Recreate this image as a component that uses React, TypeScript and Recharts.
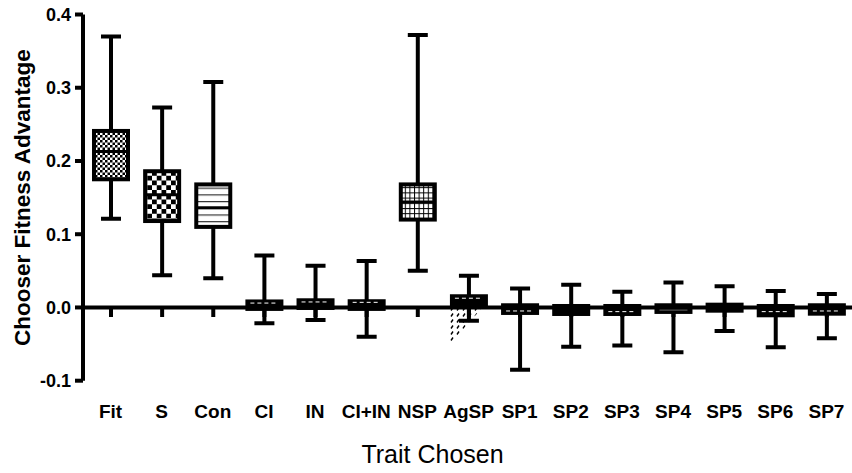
import React from "react";
import { ComposedChart, Bar, XAxis, YAxis, ReferenceLine, Label } from "recharts";

const categories = ["Fit", "S", "Con", "CI", "IN", "CI+IN", "NSP", "AgSP", "SP1", "SP2", "SP3", "SP4", "SP5", "SP6", "SP7"];
const whiskerLow = [0.121, 0.044, 0.04, -0.0216, -0.017, -0.04, 0.05, -0.018, -0.085, -0.0535, -0.052, -0.061, -0.032, -0.0544, -0.042];
const quartile1 = [0.175, 0.118, 0.11, -0.002, -0.0007, -0.002, 0.12, 0.0025, -0.0075, -0.0089, -0.0089, -0.0061, -0.0044, -0.0107, -0.0085];
const medians = [0.213, 0.154, 0.136, 0.006, 0.0075, 0.007, 0.144, 0.0126, -0.0048, -0.004, -0.0057, -0.0034, 0, -0.0057, -0.0048];
const quartile3 = [0.241, 0.186, 0.168, 0.0082, 0.0098, 0.0085, 0.168, 0.0153, 0.003, 0.002, 0.002, 0.003, 0.0038, 0.002, 0.003];
const whiskerHigh = [0.37, 0.273, 0.308, 0.071, 0.057, 0.0635, 0.372, 0.0434, 0.026, 0.031, 0.0216, 0.034, 0.029, 0.0225, 0.0184];
const yTicks = [-0.1, 0, 0.1, 0.2, 0.3, 0.4];

const data = categories.map((name, i) => ({
  name,
  range: [whiskerLow[i], whiskerHigh[i]],
  low: whiskerLow[i],
  q1: quartile1[i],
  median: medians[i],
  q3: quartile3[i],
  high: whiskerHigh[i],
}));

const font = "'Liberation Sans', Arial, sans-serif";

// fill and median look per box
const boxFill: Record<string, string> = {
  Fit: "url(#chkFine)",
  S: "url(#chkCoarse)",
  Con: "url(#hStripe)",
  NSP: "url(#gridPat)",
};
const bigBoxes = ["Fit", "S", "Con", "NSP"];
const plainBlack = ["SP2", "SP5"];

function BoxShape(props: any) {
  const { x, y, width, height, payload } = props;
  const top = Math.min(y, y + height);
  const bottom = Math.max(y, y + height);
  const span = payload.high - payload.low;
  const py = (v: number) => top + ((payload.high - v) / span) * (bottom - top);
  const cx = x + width / 2;
  const y0 = py(0);
  const yq3 = py(payload.q3);
  const yq1 = py(payload.q1);
  const ym = py(payload.median);
  const big = bigBoxes.includes(payload.name);
  const fill = boxFill[payload.name] || "#000";
  return (
    <g>
      {/* stray hatch left under the AgSP box in the original */}
      {payload.name === "AgSP" && (
        <polygon
          points={`${x},${yq1 + 2} ${x + width * 0.85},${yq1 + 2} ${x},${py(-0.05)}`}
          fill="url(#hatch)"
        />
      )}
      <line x1={cx} x2={cx} y1={y0} y2={y0 + 9.5} stroke="#000" strokeWidth={4} />
      <line x1={cx} x2={cx} y1={top} y2={bottom} stroke="#000" strokeWidth={4} />
      <line x1={cx - 10} x2={cx + 10} y1={top} y2={top} stroke="#000" strokeWidth={4} />
      <line x1={cx - 10} x2={cx + 10} y1={bottom} y2={bottom} stroke="#000" strokeWidth={4} />
      <rect x={x + 2} y={yq3} width={width - 4} height={yq1 - yq3} fill={fill} stroke="#000" strokeWidth={4} />
      {big && <line x1={x + 2} x2={x + width - 2} y1={ym} y2={ym} stroke="#000" strokeWidth={3} />}
      {!big && !plainBlack.includes(payload.name) && (
        <line
          x1={x + 5}
          x2={x + width - 5}
          y1={ym}
          y2={ym}
          stroke={payload.name === "SP4" ? "#888" : "#fff"}
          strokeWidth={1}
          strokeDasharray={payload.name === "SP4" ? undefined : "4 3"}
        />
      )}
    </g>
  );
}

export default function App() {
  return (
    <div style={{ position: "absolute", left: 0, top: 0, width: 852, height: 473, background: "#fff" }}>
      <svg width={0} height={0} style={{ position: "absolute" }}>
        <defs>
          <pattern id="chkFine" width={5} height={5} patternUnits="userSpaceOnUse">
            <rect width={5} height={5} fill="#fff" />
            <rect width={2.5} height={2.5} fill="#000" />
            <rect x={2.5} y={2.5} width={2.5} height={2.5} fill="#000" />
          </pattern>
          <pattern id="chkCoarse" width={9.5} height={9.5} patternUnits="userSpaceOnUse">
            <rect width={9.5} height={9.5} fill="#fff" />
            <rect width={4.75} height={4.75} fill="#000" />
            <rect x={4.75} y={4.75} width={4.75} height={4.75} fill="#000" />
          </pattern>
          <pattern id="hStripe" width={10} height={6.7} patternUnits="userSpaceOnUse">
            <rect width={10} height={6.7} fill="#fff" />
            <rect y={0} width={10} height={1.2} fill="#333" />
          </pattern>
          <pattern id="gridPat" width={4.6} height={5.2} patternUnits="userSpaceOnUse">
            <rect width={4.6} height={5.2} fill="#fff" />
            <rect width={1} height={5.2} fill="#000" />
            <rect width={4.6} height={1} fill="#000" />
          </pattern>
          <pattern id="hatch" width={6} height={6} patternUnits="userSpaceOnUse">
            <line x1={1} y1={4.5} x2={3} y2={1.5} stroke="#000" strokeWidth={1.4} />
          </pattern>
        </defs>
      </svg>
      <ComposedChart width={852} height={473} data={data} margin={{ top: 14.5, right: 0, bottom: 0, left: 0 }}>
        <XAxis
          dataKey="name"
          interval={0}
          axisLine={false}
          tickLine={false}
          height={92.3}
          tickMargin={18}
          padding={{ left: 2, right: 0 }}
          tick={{ fill: "#000", fontSize: 19, fontWeight: "bold", fontFamily: font }}
        >
          <Label
            value="Trait Chosen"
            position="insideBottom"
            offset={10}
            dx={-35}
            style={{ fill: "#000", fontSize: 25, fontFamily: font }}
          />
        </XAxis>
        <YAxis
          width={83}
          domain={[-0.1, 0.4]}
          ticks={yTicks}
          interval={0}
          allowDataOverflow
          tickFormatter={(v: number) => v.toFixed(1)}
          axisLine={{ stroke: "#000", strokeWidth: 4 }}
          tickLine={{ stroke: "#000", strokeWidth: 4 }}
          tickSize={8}
          tickMargin={4}
          tick={{ fill: "#000", fontSize: 18, fontWeight: "bold", fontFamily: font }}
        >
          <Label
            value="Chooser Fitness Advantage"
            angle={-90}
            position="insideLeft"
            offset={22}
            style={{ textAnchor: "middle", fill: "#000", fontSize: 22.5, fontWeight: "bold", fontFamily: font }}
          />
        </YAxis>
        <ReferenceLine y={0} stroke="#000" strokeWidth={4} />
        <Bar dataKey="range" barSize={38} shape={BoxShape} isAnimationActive={false} />
      </ComposedChart>
    </div>
  );
}
